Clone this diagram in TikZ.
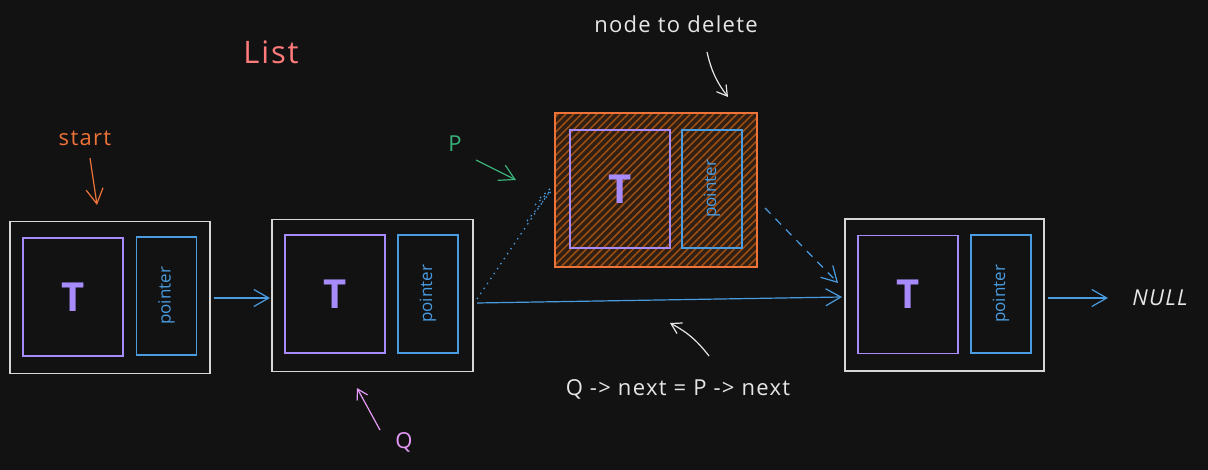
\documentclass[tikz,border=0pt]{standalone}
\usepackage{fontspec}
\setmainfont{Open Sans}
\newfontfamily\hand[LetterSpace=6]{Open Sans}
\usetikzlibrary{arrows.meta,patterns.meta}
\definecolor{bg}{HTML}{121212}
\definecolor{cwhite}{HTML}{E6E6E6}
\definecolor{cpurple}{HTML}{A78BFA}
\definecolor{cblue}{HTML}{4A9CE0}
\definecolor{corange}{HTML}{EE7338}
\definecolor{cbrown}{HTML}{9A4E14}
\definecolor{cgreen}{HTML}{38B07A}
\definecolor{cred}{HTML}{FF7B7B}
\definecolor{cpink}{HTML}{E599F7}
\tikzset{
  outerbox/.style={draw=cwhite!85!gray, line width=1.5pt, minimum width=200pt, minimum height=152pt, inner sep=0pt},
  tbox/.style={draw=cpurple, line width=1.2pt, minimum width=100pt, minimum height=118pt, inner sep=0pt, text=cpurple, font=\fontsize{40}{40}\selectfont\bfseries},
  pbox/.style={draw=cblue, line width=1.2pt, minimum width=60pt, minimum height=118pt, inner sep=0pt},
  ptext/.style={text=cblue, rotate=90, font=\fontsize{17}{17}\selectfont},
  lbl/.style={font=\hand\fontsize{22}{22}\selectfont, inner sep=0pt},
  arr/.style={line width=1.2pt, -{Straight Barb[length=15pt,width=17pt,line width=1.2pt]}},
  sarr/.style={line width=1.2pt, -{Straight Barb[length=10pt,width=12pt,line width=1.2pt]}},
}
\begin{document}
\begin{tikzpicture}[x=1pt,y=-1pt]
\fill[bg] (0,0) rectangle (1208,470);
\useasboundingbox (0,0) rectangle (1208,470);

% node 1
\node[outerbox] (n1) at (110,297.5) {};
\node[tbox] (t1) at (73,297) {T};
\node[pbox] (p1) at (166.5,296) {};
\node[ptext] at (p1) {pointer};

% node 2
\node[outerbox, minimum width=201pt] (n2) at (372.5,295.5) {};
\node[tbox] (t2) at (335,294) {T};
\node[pbox] (p2) at (428,294) {};
\node[ptext] at (p2) {pointer};

% node to delete
\node[outerbox, draw=none, fill=cbrown!22!bg] (d) at (656,190) {};
\path[pattern={Lines[angle=45,distance=5.5pt,line width=1.6pt]}, pattern color=cbrown] (d.north west) rectangle (d.south east);
\draw[corange, line width=1.6pt] (d.north west) rectangle (d.south east);
\node[tbox] (t3) at (620,189) {T};
\node[pbox] (p3) at (712,189) {};
\node[ptext] at (p3) {pointer};

% node 4
\node[outerbox, minimum width=199pt] (n4) at (944.5,295) {};
\node[tbox] (t4) at (908,294.5) {T};
\node[pbox] (p4) at (1001,294) {};
\node[ptext] at (p4) {pointer};

% labels
\node[lbl, text=cred, font=\hand\fontsize{31}{31}\selectfont] (list) at (271,52) {List};
\node[lbl, text=corange] (start) at (85,138) {start};
\node[lbl, text=cgreen] (P) at (455,144) {P};
\node[lbl, text=cwhite] (del) at (676,24) {node to delete};
\node[lbl, text=cpink] (Q) at (404,442) {Q};
\node[lbl, text=cwhite] (expr) at (678,389) {Q -> next = P -> next};
\node[lbl, text=cwhite, font=\hand\fontsize{22}{22}\selectfont\itshape] (null) at (1160,298) {NULL};

% free ends
\coordinate (a1s) at (214,298); \coordinate (a1e) at (270,298);
\coordinate (a2s) at (477,303); \coordinate (a2e) at (842,297);
\coordinate (a3s) at (1048,298); \coordinate (a3e) at (1108,298);
\coordinate (dss) at (765,208); \coordinate (dse) at (838,283);
\coordinate (ots) at (477,299); \coordinate (ote) at (550,191);
\coordinate (st1) at (90,158); \coordinate (st2) at (97,205);
\coordinate (ps) at (476,160); \coordinate (pe) at (516,180);
\coordinate (dls) at (707,52); \coordinate (dle) at (728,97);
\coordinate (qs) at (380,430); \coordinate (qe) at (357,388);
\coordinate (es) at (709,356); \coordinate (ee) at (670,323);

% connectors
\draw[arr, cblue] (a1s) -- (a1e);
\draw[arr, cblue] (a2s) -- (a2e);
\draw[arr, cblue] (a3s) -- (a3e);
\draw[arr, cblue, dash pattern=on 8pt off 7pt] (dss) -- (dse);
\draw[cblue, line width=1.2pt, dash pattern=on 1.5pt off 4.5pt] (ots) -- (ote);
\draw[cblue, line width=1.2pt, dash pattern=on 1.5pt off 4.5pt] (527,221) -- (553,189);
\draw[cblue, line width=1.2pt, dash pattern=on 1.5pt off 4.5pt] (535,205) -- (549,192);
\draw[cblue, line width=1.2pt, dash pattern=on 1.5pt off 4.5pt] (540,198) -- (553,186);

\draw[arr, corange] (st1) -- (st2);
\draw[arr, cgreen] (ps) -- (pe);
\draw[sarr, cwhite] (dls) to[bend right=12] (dle);
\draw[sarr, cpink] (qs) -- (qe);
\draw[sarr, cwhite] (es) to[bend right=12] (ee);
\end{tikzpicture}
\end{document}
